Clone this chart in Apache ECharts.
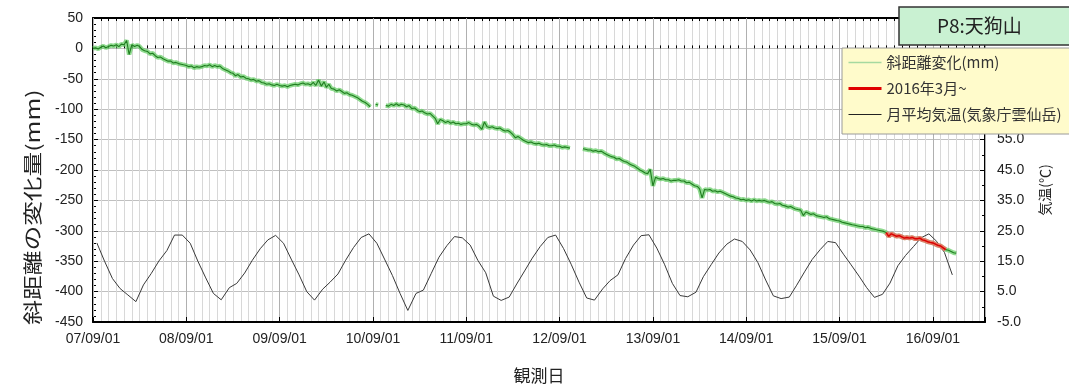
<!DOCTYPE html>
<html><head><meta charset="utf-8">
<script src="https://cdn.jsdelivr.net/npm/echarts@6/dist/echarts.min.js"></script>
<style>html,body{margin:0;padding:0;background:#fff}#c{width:1069px;height:389px}</style>
</head><body><div id="c"></div>
<script>
// ---- data ----
const xTickLabels = ['07/09/01','08/09/01','09/09/01','10/09/01','11/09/01','12/09/01','13/09/01','14/09/01','15/09/01','16/09/01'];
const slopeDaysOfMonth = [1, 11, 21]; // three readings per month, from 2007-09
const slopeValues = [
  // 2007-09 .. 2008-08
  0,1,-1, 2,4,1, 3,5,4, 6,3,7, 6,13,-10, 6,3,5, 3,-2,-4, -5,-9,-8, -12,-15,-14, -17,-19,-21, -21,-24,-23, -25,-26,-27,
  // 2008-09 .. 2009-08
  -28,-30,-29, -32,-30,-31, -30,-28,-29, -27,-30,-28, -30,-29,-33, -35,-37,-40, -41,-45,-43, -47,-46,-49, -50,-52,-51, -54,-53,-56, -57,-59,-58, -60,-61,-59,
  // 2009-09 .. 2010-08
  -61,-62,-61, -63,-61,-60, -59,-60,-58, -57,-59,-58, -60,-56,-61, -52,-62,-55, -64,-59,-66, -67,-70,-68, -71,-74,-73, -76,-77,-79, -81,-84,-87, -89,-92,-96,
  // 2010-09 .. 2011-08
  null,-92,-93, null,null,-94, -95,-92,-94, -91,-94,-92, -93,-96,-94, -99,-98,-102, -104,-103,-106, -108,-107,-111, -115,-124,-117, -119,-122,-120, -123,-121,-124, -123,-125,-124,
  // 2011-09 .. 2012-08
  -124,-122,-125, -126,-125,-128, -133,-121,-129, -130,-129,-131, -132,-131,-134, -136,-135,-138, -142,-147,-145, -148,-151,-153, -155,-154,-156, -157,-156,-158, -159,-158,-160, -160,-159,-161,
  // 2012-09 .. 2013-08
  -161,-163,-162, -163,-164,null, null,null,null, -165,-166,-167, -167,-169,-168, -170,-169,-172, -174,-176,-178, -179,-182,-181, -184,-186,-187, -190,-192,-194, -197,-200,-202, -205,-206,-199,
  // 2013-09 .. 2014-08
  -226,-212,-214, -215,-214,-216, -216,-218,-217, -217,-216,-218, -218,-221,-220, -223,-226,-227, -231,-246,-232, -233,-232,-235, -234,-236,-235, -237,-239,-241, -243,-244,-246, -247,-249,-248,
  // 2014-09 .. 2015-08
  -250,-249,-251, -249,-251,-250, -251,-250,-252, -253,-252,-255, -256,-255,-258, -259,-261,-260, -262,-264,-265, -266,-275,-269, -271,-273,-272, -275,-276,-277, -278,-277,-280, -281,-282,-283,
  // 2015-09 .. 2016-08
  -284,-286,-287, -288,-289,-290, -291,-292,-293, -293,-295,-294, -296,-297,-298, -299,-300,-301, -303,-309,-305, -307,-309,-308, -310,-312,-311, -312,-311,-313, -313,-312,-315, -316,-318,-319,
  // 2016-09 .. 2016-12
  -320,-322,-324, -325,-328,-331, -332,-334,-336, -337
];
const redFrom = '2016-03-01';
const redTo = '2016-10-21';
// monthly mean air temperature, from 2007-09 (plotted mid-month)
const tempValues = [
  21.0, 15.0, 9.3, 6.0, 3.9, 1.7, 7.2, 11.0, 15.1, 18.5, 23.6, 23.6,
  20.9, 15.0, 9.5, 4.4, 2.3, 6.3, 7.7, 11.1, 15.3, 19.1, 22.0, 23.5,
  20.9, 15.7, 10.5, 5.0, 2.2, 5.8, 8.1, 10.8, 15.3, 19.5, 22.8, 24.0,
  20.9, 15.7, 10.3, 4.4, -1.2, 4.4, 5.5, 11.0, 16.3, 20.1, 23.1, 22.7,
  20.3, 15.3, 11.2, 3.5, 2.1, 3.2, 7.5, 11.8, 16.0, 19.8, 22.8, 23.6,
  19.2, 14.0, 8.1, 2.9, 2.2, 5.9, 8.6, 10.5, 15.9, 20.3, 23.4, 23.7,
  19.3, 14.0, 7.7, 3.7, 3.3, 4.8, 9.9, 13.9, 17.7, 20.6, 22.3, 21.5,
  18.7, 14.6, 8.8, 3.6, 2.7, 3.2, 7.1, 11.5, 15.6, 18.8, 21.5, 21.1,
  17.3, 13.8, 10.1, 6.3, 3.1, 4.1, 7.8, 13.5, 16.9, 19.8, 22.7, 24.0,
  21.5, 17.9, 10.5
];

// ---- helpers: convert a calendar date into axis units (months since 2007-09-01) ----
function monthPos(y, mo, d) {
  const dim = new Date(y, mo, 0).getDate();
  return (y - 2007) * 12 + (mo - 9) + (d - 1) / dim;
}
function ymOf(k) { const t = 8 + k; return [2007 + Math.floor(t / 12), (t % 12) + 1]; }
function pad(n) { return (n < 10 ? '0' : '') + n; }

const slopeData = [], redData = [];
slopeValues.forEach((v, i) => {
  const [y, mo] = ymOf(Math.floor(i / 3));
  const d = slopeDaysOfMonth[i % 3];
  const ds = y + '-' + pad(mo) + '-' + pad(d);
  const x = monthPos(y, mo, d);
  slopeData.push([x, v]);
  if (ds >= redFrom && ds <= redTo) redData.push([x, v]);
});
const tempData = tempValues.map((v, k) => { const [y, mo] = ymOf(k); return [monthPos(y, mo, 16), v]; });

const X_MAX = 114.7;
const CJK = "'Noto Sans CJK JP', sans-serif";
const LAT = "'Liberation Sans', Arial, sans-serif";

const chart = echarts.init(document.getElementById('c'));
chart.setOption({
  animation: false,
  backgroundColor: '#ffffff',
  grid: { left: 93, right: 84, top: 18, bottom: 67, containLabel: false },
  title: {
    text: 'P8:天狗山', left: 899, top: 7,
    backgroundColor: '#c9f1d2', borderColor: '#333', borderWidth: 1.5,
    padding: [9, 60, 9, 38],
    textStyle: { fontSize: 19, fontWeight: 'normal', color: '#222', fontFamily: CJK, lineHeight: 20 }
  },
  legend: {
    orient: 'vertical', left: 842, top: 48, selectedMode: false,
    backgroundColor: '#fffbcb', borderColor: '#9a9a9a', borderWidth: 1,
    padding: [7, 50, 12, 5], itemWidth: 33, itemHeight: 14, itemGap: 11,
    itemStyle: { opacity: 0 },
    textStyle: { fontSize: 15, color: '#333', fontFamily: CJK },
    data: [
      { name: '斜距離変化(mm)', itemStyle: { opacity: 0 }, lineStyle: { color: '#a6d9a0', width: 1.5, shadowBlur: 0, opacity: 1 } },
      { name: '2016年3月~', itemStyle: { opacity: 0 }, lineStyle: { color: '#e00000', width: 3, shadowBlur: 0, opacity: 1 } },
      { name: '月平均気温(気象庁雲仙岳)', itemStyle: { opacity: 0 }, lineStyle: { color: '#222', width: 1, opacity: 1 } }
    ]
  },
  xAxis: [
    {
      type: 'value', min: 0, max: X_MAX, interval: 12, position: 'bottom', z: 1,
      axisLine: { show: true, onZero: false, lineStyle: { color: '#000', width: 2 } },
      axisTick: { show: true, inside: true, length: 5, lineStyle: { color: '#000' } },
      axisLabel: {
        formatter: v => (Math.abs(v % 12) < 1e-9 ? (xTickLabels[v / 12] || '') : ''),
        fontSize: 14, color: '#222', margin: 10, fontFamily: LAT
      },
      splitLine: { show: true, lineStyle: { color: '#b0b0b0', width: 1 } },
      name: '観測日', nameLocation: 'middle', nameGap: 45,
      nameTextStyle: { fontSize: 17, color: '#222', fontFamily: CJK }
    },
    {
      type: 'value', min: 0, max: X_MAX, interval: 1, position: 'bottom',
      axisLine: { show: false },
      axisTick: { show: true, inside: true, length: 3, lineStyle: { color: '#000' } },
      axisLabel: { show: false },
      splitLine: { show: true, lineStyle: { color: '#d8d8d8', width: 1 } }
    },
    {
      type: 'value', min: 0, max: X_MAX, interval: 1, position: 'top',
      axisLine: { show: true, onZero: false, lineStyle: { color: '#000', width: 2 } },
      axisTick: { show: true, inside: true, length: 3, lineStyle: { color: '#000' } },
      axisLabel: { show: false },
      splitLine: { show: false }
    }
  ],
  yAxis: [
    {
      type: 'value', min: -450, max: 50, interval: 50, position: 'left',
      axisLine: { show: true, onZero: false, lineStyle: { color: '#000', width: 2 } },
      axisTick: { show: true, inside: true, length: 5, lineStyle: { color: '#000' } },
      minorTick: { show: true, splitNumber: 5, length: 3, lineStyle: { color: '#000' } },
      axisLabel: { fontSize: 14, color: '#222', margin: 10, fontFamily: LAT },
      splitLine: { show: true, lineStyle: { color: '#c0c0c0', width: 1 } }
    },
    {
      type: 'value', min: -5, max: 95, interval: 10, position: 'right',
      axisLine: { show: true, onZero: false, lineStyle: { color: '#000', width: 2 } },
      axisTick: { show: true, inside: true, length: 5, lineStyle: { color: '#000' } },
      minorTick: { show: true, splitNumber: 2, length: 3, lineStyle: { color: '#000' } },
      axisLabel: { formatter: v => (v > 56 ? '' : v.toFixed(1)), fontSize: 14, color: '#222', margin: 12, fontFamily: LAT },
      splitLine: { show: false }
    }
  ],
  graphic: [
    {
      type: 'text', x: 33, y: 207, rotation: Math.PI / 2, scaleX: 1.3,
      style: { text: '斜距離の変化量(mm)', font: "19px 'Noto Sans CJK JP', sans-serif", fill: '#222',
               align: 'center', verticalAlign: 'middle', textAlign: 'center', textVerticalAlign: 'middle' }
    },
    {
      type: 'text', x: 1045, y: 190, rotation: Math.PI / 2,
      style: { text: '気温(℃)', font: "14px 'Noto Sans CJK JP', sans-serif", fill: '#222',
               align: 'center', verticalAlign: 'middle', textAlign: 'center', textVerticalAlign: 'middle' }
    }
  ],
  series: [
    {
      name: '月平均気温(気象庁雲仙岳)', type: 'line', yAxisIndex: 1, data: tempData,
      showSymbol: false, symbol: 'none', lineStyle: { color: '#3a3a3a', width: 1 }, itemStyle: { color: '#222' }, z: 2
    },
    {
      // light halo under the daily displacement trace
      name: 'halo-green', type: 'line', data: slopeData, connectNulls: false,
      showSymbol: false, symbol: 'none', silent: true,
      lineStyle: { color: 'rgba(105,205,105,0.75)', width: 4.5 }, z: 3
    },
    {
      name: '斜距離変化(mm)', type: 'line', data: slopeData, connectNulls: false,
      showSymbol: false, symbol: 'none',
      lineStyle: { color: '#1f7d1f', width: 1.1 },
      itemStyle: { color: '#a6d9a0' }, z: 4
    },
    {
      name: 'halo-red', type: 'line', data: redData,
      showSymbol: false, symbol: 'none', silent: true,
      lineStyle: { color: 'rgba(255,90,90,0.75)', width: 4.5 }, z: 5
    },
    {
      name: '2016年3月~', type: 'line', data: redData,
      showSymbol: false, symbol: 'none',
      lineStyle: { color: '#dd0000', width: 1.4 },
      itemStyle: { color: '#e00000' }, z: 6
    }
  ]
});
</script>
</body></html>
